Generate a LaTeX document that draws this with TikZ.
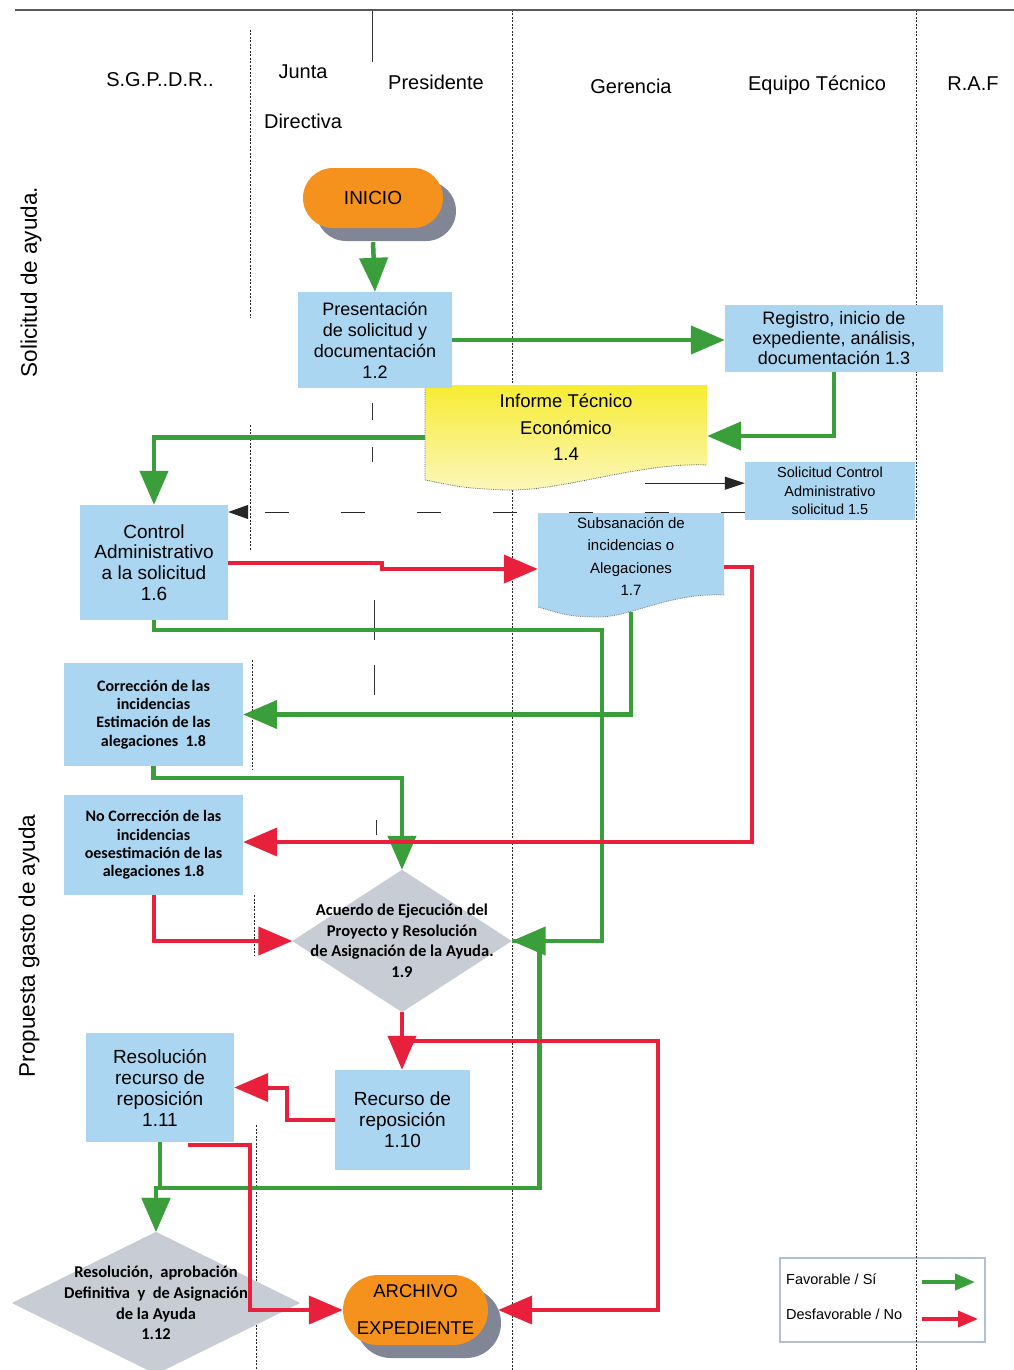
\documentclass[tikz,border=0pt]{standalone}
\usepackage{fontspec}
\setmainfont{Liberation Sans}
\newfontfamily\calfont{Carlito}
\usetikzlibrary{arrows.meta,shapes.misc,shadows,calc}
\definecolor{gr}{RGB}{58,158,58}
\definecolor{rd}{RGB}{232,32,60}
\definecolor{bx}{RGB}{171,214,241}
\definecolor{og}{RGB}{245,146,30}
\definecolor{dg}{RGB}{200,204,213}
\definecolor{sh}{RGB}{128,134,150}
\definecolor{yla}{RGB}{246,236,50}
\definecolor{ylb}{RGB}{252,247,190}
\definecolor{legb}{RGB}{180,191,210}
\pgfdeclarelayer{legbg}
\pgfdeclarelayer{lanes}
\pgfdeclarelayer{bg}
\pgfsetlayers{legbg,lanes,bg,main}
\begin{document}
\begin{tikzpicture}[x=1pt,y=-1pt,
  every node/.style={inner sep=0pt},
  hdr/.style={font=\fontsize{20}{24}\selectfont},
  box/.style={rectangle, fill=bx, align=center, font=\fontsize{18}{21}\selectfont},
  cbox/.style={rectangle, fill=bx, align=center, font=\calfont\bfseries\fontsize{16}{18.3}\selectfont},
  term/.style={rounded rectangle, fill=og, align=center,
     drop shadow={shadow xshift=13pt, shadow yshift=-13pt, fill=sh, opacity=1}},
  lane/.style={line width=1, dash pattern=on 2pt off 1.5pt, black!85},
  thinl/.style={line width=0.8, black!80},
  gline/.style={gr, line width=4.5},
  rline/.style={rd, line width=4},
  arr/.style={-{Triangle[width=28pt,length=34pt]}},
  sarr/.style={-{Triangle[width=16pt,length=20pt]}}
]
\useasboundingbox (0,0) rectangle (1014,1370);

% background and legend box
\begin{pgfonlayer}{legbg}
\fill[white] (0,0) rectangle (1014,1370);
\node[draw=legb, line width=2, fill=white, minimum width=205, minimum height=84] (nleg) at (882.5,1300) {};
\end{pgfonlayer}

% title line
\draw[line width=2, black!65] (15,10) -- (1014,10);

% lanes
\begin{pgfonlayer}{lanes}
\draw[lane] (512,10) -- (512,1370);
\draw[lane] (916,10) -- (916,1370);
\draw[lane] (250,30) -- (250,318);
\draw[lane] (250,425) -- (250,550);
\draw[lane] (252,660) -- (252,770);
\draw[lane] (254,895) -- (254,955);
\draw[lane] (256,1125) -- (256,1370);
\draw[thinl] (372,10) -- (372,62);
\draw[thinl] (372,403) -- (372,420);
\draw[thinl] (372,447) -- (372,462);
\draw[thinl] (374,600) -- (374,640);
\draw[thinl] (374,665) -- (374,695);
\draw[thinl] (376,820) -- (376,835);
\end{pgfonlayer}

% headers
\node[hdr] (hsg) at (160,80) {S.G.P..D.R..};
\node[hdr, align=center, font=\fontsize{20}{50}\selectfont] (hjd) at (303,97) {Junta\\Directiva};
\node[hdr] (hpr) at (436,82) {Presidente};
\node[hdr] (hge) at (631,86) {Gerencia};
\node[hdr] (het) at (817,85) {Equipo Técnico};
\node[hdr] (hra) at (973,84) {R.A.F};
\node[rotate=90, font=\fontsize{22.5}{26}\selectfont] (lsol) at (31,282) {Solicitud de ayuda.};
\node[rotate=90, font=\fontsize{22.5}{26}\selectfont] (lpro) at (29,946) {Propuesta gasto de ayuda};

% nodes
\node[term, minimum width=140, minimum height=60, font=\fontsize{19}{22}\selectfont] (nini) at (373,198) {INICIO};
\node[box, minimum width=154, minimum height=96] (n12) at (375,340) {Presentación\\de solicitud y\\documentación\\1.2};
\node[box, minimum width=218, minimum height=67, font=\fontsize{18}{20}\selectfont] (n13) at (834,338.5) {Registro, inicio de\\expediente, análisis,\\documentación 1.3};
\node[align=center, minimum width=282, minimum height=85, font=\fontsize{18.5}{26.5}\selectfont] (n14) at (566,427.5) {Informe Técnico\\Económico\\1.4};
\node[box, minimum width=170, minimum height=58, font=\fontsize{14.5}{18.5}\selectfont] (n15) at (830,491) {Solicitud Control\\Administrativo\\solicitud 1.5};
\node[box, minimum width=148, minimum height=115, font=\fontsize{19}{20.7}\selectfont] (n16) at (154,562.5) {Control\\Administrativo\\a la solicitud\\1.6};
\node[align=center, minimum width=186, minimum height=87, font=\fontsize{15}{22.5}\selectfont] (n17) at (631,556.5) {Subsanación de\\incidencias o\\Alegaciones\\1.7};
\node[cbox, minimum width=179, minimum height=103] (n18a) at (153.5,714.5) {Corrección de las\\incidencias\\Estimación de las\\alegaciones\ \ 1.8};
\node[cbox, minimum width=179, minimum height=100] (n18b) at (153.5,845) {No Corrección de las\\incidencias\\oesestimación de las\\alegaciones 1.8};
\node[align=center, minimum width=219, minimum height=142, font=\calfont\bfseries\fontsize{16.5}{20.5}\selectfont] (n19) at (402,941) {Acuerdo de Ejecución del\\Proyecto y Resolución\\de Asignación de la Ayuda.\\1.9};
\node[box, minimum width=135, minimum height=100, font=\fontsize{19}{21}\selectfont] (n110) at (402.5,1120) {Recurso de\\reposición\\1.10};
\node[box, minimum width=148, minimum height=109, font=\fontsize{19}{21}\selectfont] (n111) at (160,1087.5) {Resolución\\recurso de\\reposición\\1.11};
\node[align=center, minimum width=288, minimum height=142, font=\calfont\bfseries\fontsize{16.5}{20.7}\selectfont] (n112) at (156,1303) {Resolución,\ \ aprobación\\Definitiva\ \ y\ \ de Asignación\\de la Ayuda\\1.12};
\node[term, minimum width=145, minimum height=70, font=\fontsize{18.5}{37}\selectfont] (nar) at (415.5,1310) {ARCHIVO\\EXPEDIENTE};

% shapes behind text
\begin{pgfonlayer}{bg}
\fill[dg] (n19.north) -- (n19.east) -- (n19.south) -- (n19.west) -- cycle;
\fill[dg] (n112.north) -- (n112.east) -- (n112.south) -- (n112.west) -- cycle;
\shade[top color=yla, bottom color=ylb]
  ($(n14.center)+(-141,-42.5)$) -- ($(n14.center)+(141,-42.5)$) -- ($(n14.center)+(141,37.5)$)
  .. controls ($(n14.center)+(74,34.5)$) and ($(n14.center)+(-6,64.5)$) .. ($(n14.center)+(-61,62.5)$)
  .. controls ($(n14.center)+(-101,60.5)$) .. ($(n14.center)+(-141,52.5)$) -- cycle;
\draw[densely dotted, black!60, line width=0.8]
  ($(n14.center)+(-141,-42.5)$) -- ($(n14.center)+(-141,52.5)$)
  .. controls ($(n14.center)+(-101,60.5)$) .. ($(n14.center)+(-61,62.5)$)
  .. controls ($(n14.center)+(-6,64.5)$) and ($(n14.center)+(74,34.5)$) .. ($(n14.center)+(141,37.5)$);
\fill[bx]
  ($(n17.center)+(-93,-43.5)$) -- ($(n17.center)+(93,-43.5)$) -- ($(n17.center)+(93,38.5)$)
  .. controls ($(n17.center)+(40,36)$) and ($(n17.center)+(0,60)$) .. ($(n17.center)+(-31,60.5)$)
  .. controls ($(n17.center)+(-60,60)$) .. ($(n17.center)+(-93,50.5)$) -- cycle;
\draw[densely dotted, black!50, line width=0.8]
  ($(n17.center)+(-93,50.5)$) .. controls ($(n17.center)+(-60,60)$) .. ($(n17.center)+(-31,60.5)$)
  .. controls ($(n17.center)+(0,60)$) and ($(n17.center)+(40,36)$) .. ($(n17.center)+(93,38.5)$);
\end{pgfonlayer}

% helper coordinates
\coordinate (cini) at ($(nini.south)+(0,14)$);
\coordinate (c14) at ($(n14.south east)+(-62,13)$);
\coordinate (c15) at ($(n15.west)+(0,21)$);
\coordinate (c17) at ($(n17.west)+(0,12.5)$);
\coordinate (c17r) at ($(n17.east)+(0,10)$);
\coordinate (c18b) at ($(n18b.east)+(0,-3)$);
\coordinate (cn14) at ($(n14.east)+(0,8.5)$);
\coordinate (cw14) at ($(n14.west)+(0,10)$);
\coordinate (car) at ($(nar.east)+(10,0)$);
\coordinate (car2) at ($(nar.east)+(170,0)$);
\coordinate (c111) at ($(n111.south)+(28,3)$);

% green connectors
\draw[gline,arr] (cini) -- (n12.north);
\draw[gline,arr] (n12.east) -- (n12.east -| n13.west);
\draw[gline,arr] (n13.south) |- (cn14);
\draw[gline,arr] (cw14) -| (n16.north);
\draw[gline,arr] (n16.south) -- ++(0,10) -- ++(448,0) |- (n19.east);
\draw[gline,arr] ($(n17.south)+(0,12)$) |- (n18a.east);
\draw[gline,arr] (n18a.south) -- ++(0,12) -| (n19.north);
\draw[gline,arr] (n19.east) -- ++(28,0) -- ++(0,247) -| (n112.north);
\draw[gline,arr] (n111.south) -- ++(0,46) -| (n112.north);

% red connectors
\draw[rline,arr] (n16.east) -- ++(154,0) -- ++(0,6.5) -- (c17);
\draw[rline,arr] (c17r) -- ++(28,0) |- (c18b);
\draw[rline,arr] (n18b.south) |- (n19.west);
\draw[rline,arr] (n19.south) -- (n19.south |- n110.north);
\draw[rline,arr] (n19.south) -- ++(0,29) -| (car2) -- (car);
\draw[rline,arr] (n110.west) -- ++(-48,0) |- (n111.east);
\draw[rline,arr] (c111) -- ++(62,0) |- (nar.west);

% black thin connectors
\draw[line width=1, black!85, -{Triangle[width=13pt,length=20pt]}] (c14) -- (c14 -| n15.west);
\draw[line width=1, black!85, dash pattern=on 24pt off 52pt, -{Triangle[width=14pt,length=20pt]}] (c15) -- (c15 -| n16.east);

% legend
\node[anchor=west, font=\fontsize{14.5}{17}\selectfont] (lfav) at (786,1279) {Favorable / Sí};
\node[anchor=west, font=\fontsize{14.5}{17}\selectfont] (ldes) at (786,1314) {Desfavorable / No};
\coordinate (lg1) at (922,1282);
\coordinate (lg2) at (975,1282);
\coordinate (lr1) at (922,1319);
\coordinate (lr2) at (978,1319);
\draw[gr, line width=4, sarr] (lg1) -- (lg2);
\draw[rd, line width=3.5, sarr] (lr1) -- (lr2);
\end{tikzpicture}
\end{document}
